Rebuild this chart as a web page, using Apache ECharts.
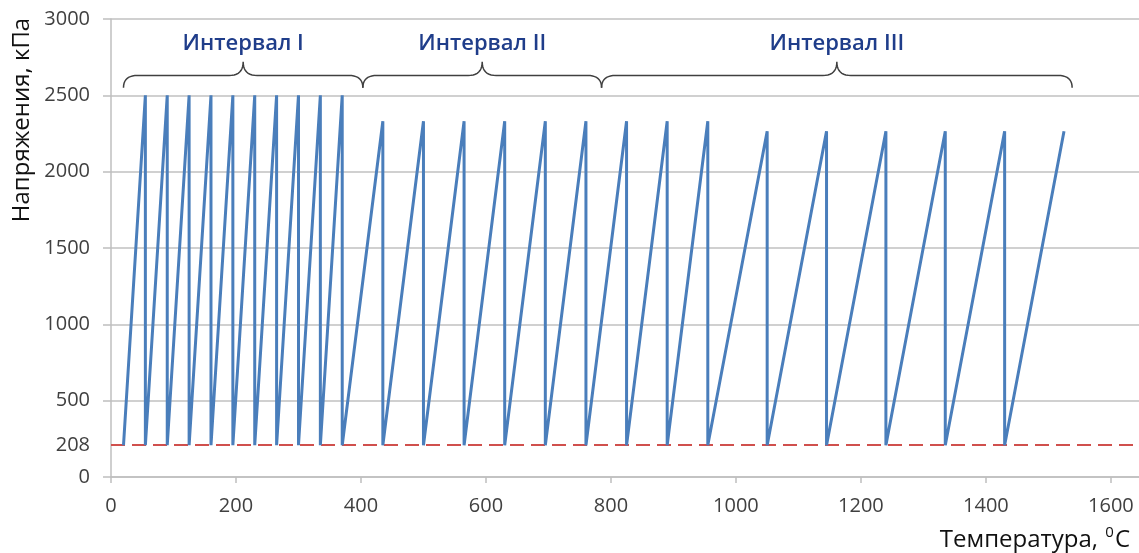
<!DOCTYPE html>
<html>
<head>
<meta charset="utf-8">
<script src="https://cdn.jsdelivr.net/npm/echarts@6/dist/echarts.min.js"></script>
<style>
html,body{margin:0;padding:0;background:#fff;}
#chart{width:1139px;height:553px;}
</style>
</head>
<body>
<div id="chart"></div>
<script>
// ---- data ----
const baseStress = 208;
const startTemp = 20;
const peakTempsI = [55, 90, 125, 160, 195, 230, 265, 300, 335, 370];
const peakStressI = [2500, 2500, 2500, 2500, 2500, 2500, 2500, 2500, 2500, 2500];
const peakTempsII = [435, 500, 565, 630, 695, 760, 825, 890, 955];
const peakStressII = [2330, 2330, 2330, 2330, 2330, 2330, 2330, 2330, 2330];
const peakTempsIII = [1050, 1145, 1240, 1335, 1430, 1525];
const peakStressIII = [2265, 2265, 2265, 2265, 2265, 2265];
const yLabelValues = [0, 208, 500, 1000, 1500, 2000, 2500, 3000];
const intervalNames = ['Интервал I', 'Интервал II', 'Интервал III'];
const intervalFrom = [20, 403, 785];
const intervalTo = [403, 785, 1538];

// build the sawtooth polyline
const peakTemps = peakTempsI.concat(peakTempsII, peakTempsIII);
const peakStress = peakStressI.concat(peakStressII, peakStressIII);
const points = [[startTemp, baseStress]];
peakTemps.forEach((t, i) => {
  points.push([t, peakStress[i]]);
  if (i < peakTemps.length - 1) points.push([t, baseStress]);
});

const FONT = '"Open Sans", "Liberation Sans", sans-serif';
const chart = echarts.init(document.getElementById('chart'));
chart.setOption({
  animation: false,
  backgroundColor: '#fff',
  grid: { left: 111, right: 0, top: 19, bottom: 76, containLabel: false },
  xAxis: {
    type: 'value', min: 0, max: 1645, interval: 200,
    axisLine: { show: true, lineStyle: { color: '#bfbfbf', width: 1.5 } },
    axisTick: { show: true, length: 6, lineStyle: { color: '#bfbfbf', width: 1.5 } },
    splitLine: { show: false },
    axisLabel: { showMaxLabel: false, color: '#404040', fontSize: 20, fontFamily: FONT, margin: 19,
                 formatter: v => String(v) }
  },
  yAxis: {
    type: 'value', min: 0, max: 3000, interval: 500,
    axisLine: { show: true, lineStyle: { color: '#bfbfbf', width: 1.5 } },
    axisTick: { show: true, length: 8, lineStyle: { color: '#bfbfbf', width: 1.5 } },
    splitLine: { show: true, lineStyle: { color: '#c0c0c0', width: 1.5 } },
    axisLabel: { customValues: yLabelValues, color: '#404040', fontSize: 20, fontFamily: FONT, margin: 21,
                 formatter: v => String(v) }
  },
  series: [{
    type: 'line',
    data: points,
    symbol: 'none',
    lineStyle: { color: '#4a7ebb', width: 3 },
    z: 3,
    markLine: {
      silent: true, symbol: 'none', label: { show: false },
      lineStyle: { color: '#d0504d', width: 2, type: [14, 7] },
      data: [{ yAxis: baseStress }],
      z: 2
    }
  }]
});

// braces and interval titles
function bracePoints(x0, x1, yE, yL, yC) {
  const xm = (x0 + x1) / 2, r = 14, pts = [];
  const quad = (p0, c, p1) => {
    for (let k = 0; k <= 10; k++) {
      const t = k / 10;
      pts.push([(1-t)*(1-t)*p0[0] + 2*(1-t)*t*c[0] + t*t*p1[0],
                (1-t)*(1-t)*p0[1] + 2*(1-t)*t*c[1] + t*t*p1[1]]);
    }
  };
  quad([x0, yE], [x0, yL], [x0 + r, yL]);
  quad([xm - r, yL], [xm, yL], [xm, yC]);
  quad([xm, yC], [xm, yL], [xm + r, yL]);
  quad([x1 - r, yL], [x1, yL], [x1, yE]);
  return pts;
}
const graphics = [];
intervalNames.forEach((name, i) => {
  const x0 = chart.convertToPixel({ gridIndex: 0 }, [intervalFrom[i], 0])[0];
  const x1 = chart.convertToPixel({ gridIndex: 0 }, [intervalTo[i], 0])[0];
  const yE = chart.convertToPixel({ gridIndex: 0 }, [0, 2550])[1];
  const yL = chart.convertToPixel({ gridIndex: 0 }, [0, 2630])[1];
  const yC = chart.convertToPixel({ gridIndex: 0 }, [0, 2720])[1];
  const yT = chart.convertToPixel({ gridIndex: 0 }, [0, 2835])[1];
  graphics.push({
    type: 'polyline', shape: { points: bracePoints(x0, x1, yE, yL, yC) },
    style: { stroke: '#404040', lineWidth: 1.5, fill: null }, z: 10
  });
  graphics.push({
    type: 'text', x: (x0 + x1) / 2, y: yT, z: 10,
    style: { text: name, fill: '#1f3d8a', font: '600 22px ' + FONT, textAlign: 'center', textVerticalAlign: 'middle' }
  });
});
graphics.push({
  type: 'text', x: 22, y: 120, rotation: Math.PI / 2, z: 10,
  style: { text: 'Напряжения, кПа', fill: '#111', font: '24px ' + FONT, textAlign: 'center', textVerticalAlign: 'middle' }
});
graphics.push({
  type: 'text', x: 1130, y: 540, z: 10,
  style: {
    text: 'Температура, {sup|0}C', fill: '#111', font: '24px ' + FONT,
    textAlign: 'right', textVerticalAlign: 'middle',
    rich: { sup: { fontSize: 15, fontFamily: FONT, fill: '#111', verticalAlign: 'top', lineHeight: 30, padding: [0, 1, 10, 1] } }
  }
});
chart.setOption({ graphic: graphics });
</script>
</body>
</html>
